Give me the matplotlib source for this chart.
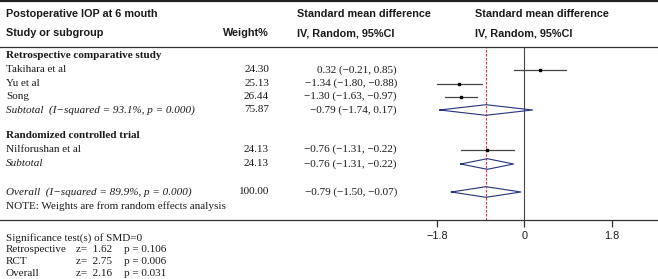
import matplotlib
matplotlib.use("Agg")
import matplotlib.pyplot as plt
from matplotlib.lines import Line2D

# Dati
studies = ["Takihara et al", "Yu et al", "Song", "Nilforushan et al"]
weights = [24.30, 25.13, 26.44, 24.13]
smd = [0.32, -1.34, -1.30, -0.76]
ci_lo = [-0.21, -1.80, -1.63, -1.31]
ci_hi = [0.85, -0.88, -0.97, -0.22]

sub_labels = ["Subtotal  (I\u2212squared = 93.1%, p = 0.000)", "Subtotal"]
sub_weights = [75.87, 24.13]
sub_smd = [-0.79, -0.76]
sub_lo = [-1.74, -1.31]
sub_hi = [0.17, -0.22]

overall_label = "Overall  (I\u2212squared = 89.9%, p = 0.000)"
overall_weight = 100.00
overall_smd = -0.79
overall_lo = -1.50
overall_hi = -0.07

group_names = ["Retrospective comparative study", "Randomized controlled trial"]
xticks = [-1.8, 0, 1.8]
xtick_labels = ["\u22121.8", "0", "1.8"]

sig_names = ["Retrospective", "RCT", "Overall"]
sig_z = [1.62, 2.75, 2.16]
sig_p = [0.106, 0.006, 0.031]

# Layout (pixel)
W, H = 658, 279
SERIF = "Liberation Serif"
SANS = "Liberation Sans"
FS = 8.0
FS_H = 7.8
DIAMOND = "#27337a"

fig = plt.figure(figsize=(W / 100, H / 100), dpi=100)


def put(x, y, s, **kw):
    kw.setdefault("va", "center")
    kw.setdefault("fontsize", FS)
    kw.setdefault("family", SERIF)
    kw.setdefault("color", "#1a1a1a")
    fig.text(x / W, 1 - y / H, s, **kw)


def fmt(v):
    return f"{v:.2f}".replace("-", "\u2212")


def ci_text(e, lo, hi):
    return f"{fmt(e)} ({fmt(lo)}, {fmt(hi)})"


# righe (y in pixel)
y_group = [56, 136]
y_study = [70, 83.5, 96.5, 149.5]
y_sub = [110, 164]
y_overall = 192
y_note = 206

# intestazione
put(6, 14, "Postoperative IOP at 6 mouth", family=SANS, weight="bold", fontsize=FS_H)
put(6, 33, "Study or subgroup", family=SANS, weight="bold", fontsize=FS_H)
put(269, 33, "Weight%", family=SANS, weight="bold", ha="right", fontsize=FS_H)
put(297, 14, "Standard mean difference", family=SANS, weight="bold", fontsize=FS_H)
put(297, 33, "IV, Random, 95%CI", family=SANS, weight="bold", fontsize=FS_H)
put(475, 14, "Standard mean difference", family=SANS, weight="bold", fontsize=FS_H)
put(475, 33, "IV, Random, 95%CI", family=SANS, weight="bold", fontsize=FS_H)

for g, y in zip(group_names, y_group):
    put(6, y, g, weight="bold")

for name, w, e, lo, hi, y in zip(studies, weights, smd, ci_lo, ci_hi, y_study):
    put(6, y, name)
    put(269, y, f"{w:.2f}", ha="right")
    put(397, y, ci_text(e, lo, hi), ha="right")

for lab, w, e, lo, hi, y in zip(sub_labels, sub_weights, sub_smd, sub_lo, sub_hi, y_sub):
    put(6, y, lab, style="italic")
    put(269, y, f"{w:.2f}", ha="right")
    put(397, y, ci_text(e, lo, hi), ha="right")

put(6, y_overall, overall_label, style="italic")
put(269, y_overall, f"{overall_weight:.2f}", ha="right")
put(397, y_overall, ci_text(overall_smd, overall_lo, overall_hi), ha="right")
put(6, y_note, "NOTE: Weights are from random effects analysis")

# test di significativita'
put(6, 238, "Significance test(s) of SMD=0")
for i, (n, z, p) in enumerate(zip(sig_names, sig_z, sig_p)):
    y = 250 + i * 11.5
    put(6, y, n)
    put(76, y, f"z=  {z:.2f}")
    put(124, y, f"p = {p:.3f}")

# bordo superiore
fig.add_artist(Line2D([0, 1], [1 - 0.8 / H, 1 - 0.8 / H], color="#222222", lw=1.6,
                      transform=fig.transFigure))

# area forest plot
ax = fig.add_axes([0, (H - 220) / H, 1, 173 / H])
x0 = 524.3
ppu = 48.6
ax.set_xlim(-x0 / ppu, (W - x0) / ppu)
ax.set_ylim(220, 47)
ax.patch.set_alpha(0)
for s in ["left", "right"]:
    ax.spines[s].set_visible(False)
for s in ["top", "bottom"]:
    ax.spines[s].set_color("#333333")
    ax.spines[s].set_linewidth(0.9)
ax.set_yticks([])
ax.set_xticks(xticks)
ax.set_xticklabels(xtick_labels, family=SANS, fontsize=FS_H, color="#1a1a1a")
ax.tick_params(axis="x", direction="out", length=5, width=0.9, color="#333333", pad=3)

ax.axvline(0, color="#444444", lw=0.8)
ax.axvline(overall_smd, color="#d4333a", lw=0.8, ls=(0, (2.2, 1.4)))

for e, lo, hi, y in zip(smd, ci_lo, ci_hi, y_study):
    ax.plot([lo, hi], [y, y], color="#444444", lw=0.9)
    ax.plot([e], [y], marker="s", ms=1.7, color="black", mec="black")


def diamond(e, lo, hi, y, h=5.3):
    ax.plot([lo, e, hi, e, lo], [y, y - h, y, y + h, y], color=DIAMOND, lw=0.8)


for e, lo, hi, y in zip(sub_smd, sub_lo, sub_hi, y_sub):
    diamond(e, lo, hi, y)
diamond(overall_smd, overall_lo, overall_hi, y_overall)

fig.savefig("out.png", dpi=100)
